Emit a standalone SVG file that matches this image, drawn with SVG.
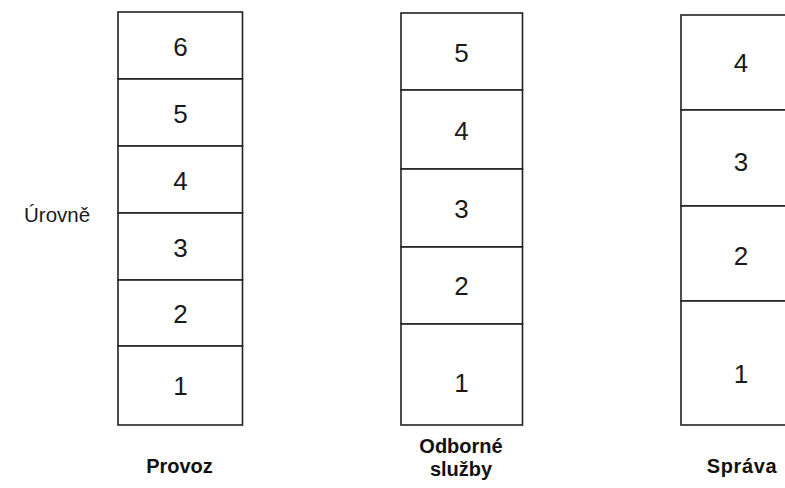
<svg xmlns="http://www.w3.org/2000/svg" width="785" height="488" viewBox="0 0 785 488">
<style>
.box{fill:#fff;stroke:#222;stroke-width:1.6}
.num{font-family:"Liberation Sans",Arial,sans-serif;font-size:26px;fill:#1a1a1a;text-anchor:middle}
.lbl{font-family:"Liberation Sans",Arial,sans-serif;font-size:20px;font-weight:bold;fill:#111;text-anchor:middle}
.side{font-family:"Liberation Sans",Arial,sans-serif;font-size:20.5px;fill:#1a1a1a}
</style>
<rect width="785" height="488" fill="#fff"/>
<g id="provoz">
<rect class="box" x="118" y="12" width="124.5" height="67"/>
<rect class="box" x="118" y="79" width="124.5" height="67"/>
<rect class="box" x="118" y="146" width="124.5" height="67"/>
<rect class="box" x="118" y="213" width="124.5" height="67"/>
<rect class="box" x="118" y="280" width="124.5" height="66"/>
<rect class="box" x="118" y="346" width="124.5" height="79"/>
<text class="num" x="180.5" y="56">6</text>
<text class="num" x="180.5" y="123">5</text>
<text class="num" x="180.5" y="190">4</text>
<text class="num" x="180.5" y="257">3</text>
<text class="num" x="180.5" y="323">2</text>
<text class="num" x="180.5" y="395">1</text>
<text class="lbl" x="179.5" y="473">Provoz</text>
</g>
<g id="odborne">
<rect class="box" x="401" y="13" width="121.5" height="77"/>
<rect class="box" x="401" y="90" width="121.5" height="79"/>
<rect class="box" x="401" y="169" width="121.5" height="78"/>
<rect class="box" x="401" y="247" width="121.5" height="77"/>
<rect class="box" x="401" y="324" width="121.5" height="101"/>
<text class="num" x="461.5" y="62">5</text>
<text class="num" x="461.5" y="140">4</text>
<text class="num" x="461.5" y="218">3</text>
<text class="num" x="461.5" y="295">2</text>
<text class="num" x="461.5" y="392">1</text>
<text class="lbl" x="461" y="453">Odborné</text>
<text class="lbl" x="461" y="476">služby</text>
</g>
<g id="sprava">
<rect class="box" x="681" y="15" width="120" height="95"/>
<rect class="box" x="681" y="110" width="120" height="96"/>
<rect class="box" x="681" y="206" width="120" height="95"/>
<rect class="box" x="681" y="301" width="120" height="124"/>
<text class="num" x="741" y="72">4</text>
<text class="num" x="741" y="171">3</text>
<text class="num" x="741" y="265">2</text>
<text class="num" x="741" y="383">1</text>
<text class="lbl" x="742" y="473" letter-spacing="0.6">Správa</text>
</g>
<g id="urovne">
<text class="side" x="24" y="222">Úrovně</text>
</g>
<g id="connectors"/>
</svg>
